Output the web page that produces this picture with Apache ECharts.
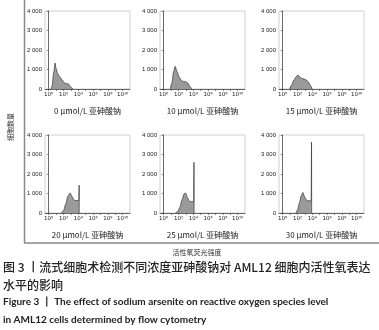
<!DOCTYPE html>
<html>
<head>
<meta charset="utf-8">
<script src="https://cdn.jsdelivr.net/npm/echarts@6/dist/echarts.min.js"></script>
<style>
  html, body { margin: 0; padding: 0; background: #fff; }
  #chart { width: 379px; height: 330px; }
</style>
</head>
<body>
<div id="chart"></div>
<script>
// panel captions (arsenite dose)
var doses = ['0 μmol/L 亚砷酸钠', '10 μmol/L 亚砷酸钠', '15 μmol/L 亚砷酸钠',
             '20 μmol/L 亚砷酸钠', '25 μmol/L 亚砷酸钠', '30 μmol/L 亚砷酸钠'];

// x in log10 decades of fluorescence, y = cell count
var x0 = [0.3, 0.45, 0.7, 0.86, 1.0, 1.2, 1.5, 1.8, 2.1, 2.4, 2.7, 2.9, 3.1, 3.3];
var y0 = [0, 150, 900, 1330, 1050, 800, 620, 480, 320, 280, 250, 150, 50, 0];
var x10 = [0.9, 1.1, 1.35, 1.55, 1.8, 2.1, 2.4, 2.7, 3.0, 3.3, 3.55, 3.8];
var y10 = [0, 300, 900, 1160, 900, 600, 440, 380, 370, 290, 120, 0];
var x15 = [0.95, 1.2, 1.5, 1.8, 2.05, 2.3, 2.6, 2.9, 3.2, 3.5, 3.75, 3.97];
var y15 = [0, 200, 450, 620, 715, 620, 540, 510, 460, 340, 180, 0];
var x20 = [1.7, 2.0, 2.3, 2.6, 2.9, 3.15, 3.4, 3.6, 3.9, 4.08, 4.12, 4.14];
var y20 = [0, 120, 450, 870, 1030, 850, 680, 640, 640, 650, 1430, 0];
var x25 = [1.6, 1.9, 2.2, 2.5, 2.75, 2.95, 3.2, 3.5, 3.8, 4.05, 4.1, 4.12];
var y25 = [0, 80, 300, 700, 980, 1030, 800, 600, 580, 580, 2600, 0];
var x30 = [1.8, 2.0, 2.25, 2.5, 2.74, 2.95, 3.15, 3.4, 3.7, 3.85, 3.9, 3.92];
var y30 = [0, 150, 500, 880, 1050, 850, 680, 640, 620, 610, 3640, 0];

var xs = [x0, x10, x15, x20, x25, x30];
var ys = [y0, y10, y15, y20, y25, y30];

var xTickVals = [0, 2, 4, 6, 8, 10];
var xTickText = ['10⁰', '10²', '10⁴', '10⁶', '10⁸', '10¹⁰'];

var lefts = [45, 160, 279];
var tops = [11, 135];

var chart = echarts.init(document.getElementById('chart'));

var grids = [], xAxes = [], yAxes = [], series = [];
for (var i = 0; i < 6; i++) {
    grids.push({
        left: lefts[i % 3], top: tops[Math.floor(i / 3)], width: 85, height: 78,
        show: true, borderColor: '#c4c4c4', borderWidth: 0.8, backgroundColor: '#fff'
    });
    xAxes.push({
        type: 'value', gridIndex: i, min: -0.5, max: 11,
        name: doses[i], nameLocation: 'middle', nameGap: 18,
        nameTextStyle: { fontSize: 8, color: '#222', fontFamily: 'Noto Sans CJK SC' },
        splitLine: { show: false },
        axisLine: { lineStyle: { color: '#444', width: 0.8 } },
        axisTick: { customValues: [0, 1, 2, 3, 4, 5, 6, 7, 8, 9, 10], length: 2, lineStyle: { color: '#444', width: 0.6 } },
        axisLabel: {
            customValues: xTickVals, fontSize: 5.5, color: '#222', margin: 3,
            fontFamily: 'DejaVu Sans',
            formatter: function (v) { return xTickText[xTickVals.indexOf(v)]; }
        }
    });
    yAxes.push({
        type: 'value', gridIndex: i, min: 0, max: 4000, interval: 1000,
        splitLine: { show: false },
        axisLine: { show: true, lineStyle: { color: '#444', width: 0.8 } },
        axisTick: { show: true, length: 2, lineStyle: { color: '#444', width: 0.6 } },
        axisLabel: {
            fontSize: 6, color: '#222', margin: 3, fontFamily: 'Liberation Sans',
            formatter: function (v) { return v === 0 ? '0' : (v / 1000) + ' 000'; }
        }
    });
    series.push({
        type: 'line', xAxisIndex: i, yAxisIndex: i, symbol: 'none',
        smooth: 0.3, smoothMonotone: 'x',
        lineStyle: { color: '#333', width: 0.7 },
        areaStyle: { color: '#9a9a9a', opacity: 1 },
        data: xs[i].map(function (x, k) { return [x, ys[i][k]]; }),
        silent: true, animation: false
    });
}

var option = {
    animation: false,
    grid: grids,
    xAxis: xAxes,
    yAxis: yAxes,
    series: series,
    graphic: [
        { type: 'line', shape: { x1: 24.5, y1: 0, x2: 24.5, y2: 243 }, style: { stroke: '#888', lineWidth: 1.5 } },
        { type: 'line', shape: { x1: 24, y1: 243, x2: 379, y2: 243 }, style: { stroke: '#888', lineWidth: 1.5 } },
        { type: 'text', x: 10, y: 127, rotation: Math.PI / 2,
          style: { text: '细胞数量', fontSize: 7, fontFamily: 'Noto Sans CJK SC', fill: '#333', align: 'center', verticalAlign: 'middle' } },
        { type: 'text', x: 197, y: 252,
          style: { text: '活性氧荧光强度', fontSize: 7, fontFamily: 'Noto Sans CJK SC', fill: '#333', align: 'center', verticalAlign: 'middle' } },
        { type: 'text', x: 3, y: 267,
          style: { text: '图 3 丨流式细胞术检测不同浓度亚砷酸钠对 AML12 细胞内活性氧表达', fontSize: 12, fontWeight: 500, fontFamily: 'Noto Sans CJK SC', fill: '#222', align: 'left', verticalAlign: 'middle' } },
        { type: 'text', x: 3, y: 285,
          style: { text: '水平的影响', fontSize: 12, fontWeight: 500, fontFamily: 'Noto Sans CJK SC', fill: '#222', align: 'left', verticalAlign: 'middle' } },
        { type: 'text', x: 3, y: 302,
          style: { text: 'Figure 3 丨 The effect of sodium arsenite on reactive oxygen species level', fontSize: 10, fontWeight: 'bold', fontFamily: 'Lato', fill: '#222', align: 'left', verticalAlign: 'middle' } },
        { type: 'text', x: 3, y: 320,
          style: { text: 'in AML12 cells determined by flow cytometry', fontSize: 10, fontWeight: 'bold', fontFamily: 'Lato', fill: '#222', align: 'left', verticalAlign: 'middle' } }
    ]
};
chart.setOption(option);
</script>
</body>
</html>
